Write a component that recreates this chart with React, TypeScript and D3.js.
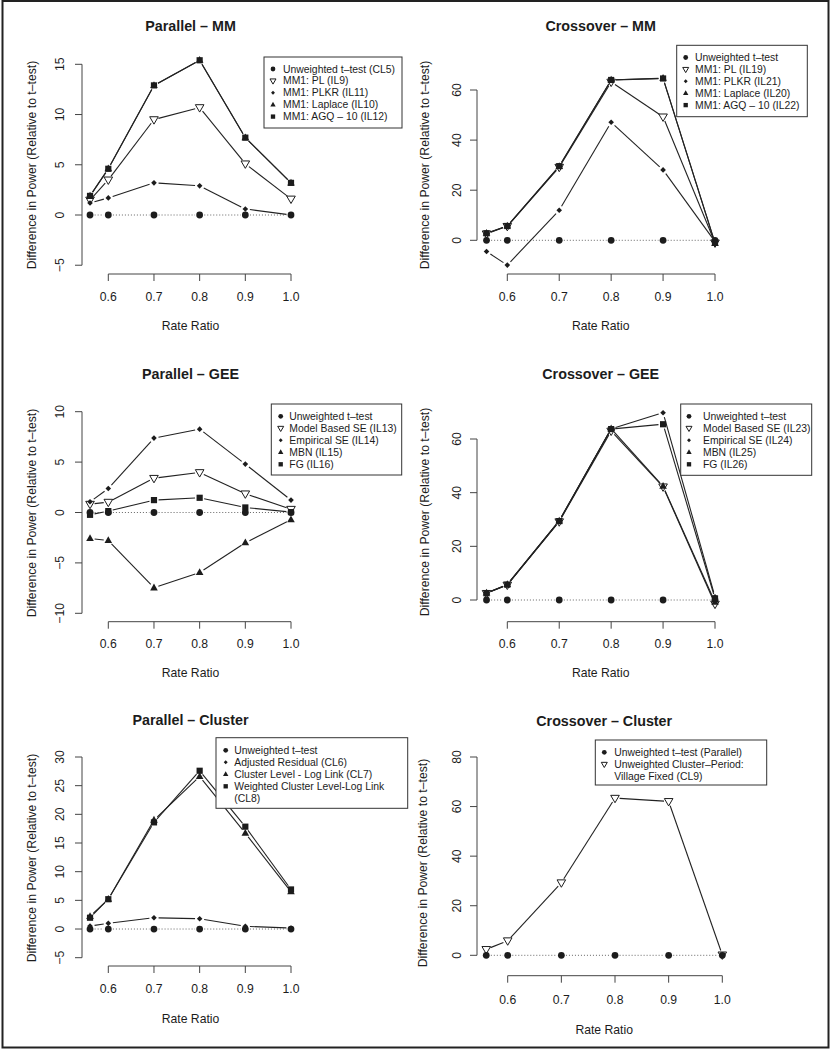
import React from "react";
import * as d3 from "d3";

// ---------- data ----------
const rateRatio = [0.56, 0.6, 0.7, 0.8, 0.9, 1.0];
const xTickValues = [0.6, 0.7, 0.8, 0.9, 1.0];

// Parallel – MM
const parMM_tTest = [0, 0, 0, 0, 0, 0];
const parMM_PL = [1.5, 3.5, 9.5, 10.7, 5.1, 1.6];
const parMM_PLKR = [1.2, 1.7, 3.2, 2.9, 0.6, 0.0];
const parMM_Laplace = [1.9, 4.6, 12.9, 15.4, 7.7, 3.2];
const parMM_AGQ = [1.9, 4.6, 12.9, 15.4, 7.7, 3.2];

// Crossover – MM
const crossMM_tTest = [0, 0, 0, 0, 0, 0];
const crossMM_PL = [2.6, 5.6, 29.2, 63.2, 49.3, -1.0];
const crossMM_PLKR = [-4.5, -9.9, 12.0, 47.1, 28.1, -0.5];
const crossMM_Laplace = [2.8, 5.7, 29.5, 64.0, 64.7, -1.2];
const crossMM_AGQ = [2.8, 5.7, 29.6, 64.0, 64.6, -1.0];

// Parallel – GEE
const parGEE_tTest = [0, 0, 0, 0, 0, 0];
const parGEE_ModelSE = [0.83, 1.03, 3.4, 3.97, 1.86, 0.33];
const parGEE_EmpSE = [1.06, 2.38, 7.38, 8.27, 4.8, 1.23];
const parGEE_MBN = [-2.58, -2.78, -7.47, -5.95, -3.0, -0.72];
const parGEE_FG = [-0.23, 0.14, 1.23, 1.46, 0.5, 0.04];

// Crossover – GEE
const crossGEE_tTest = [0, 0, 0, 0, 0, 0];
const crossGEE_ModelSE = [2.5, 5.6, 29.2, 63.0, 42.2, -1.5];
const crossGEE_EmpSE = [2.6, 5.7, 29.5, 63.8, 69.8, 1.2];
const crossGEE_MBN = [2.6, 5.8, 29.5, 63.8, 42.4, -0.8];
const crossGEE_FG = [2.5, 5.7, 29.4, 63.7, 65.5, 0.6];

// Parallel – Cluster
const parCL_tTest = [0, 0, 0, 0, 0, 0];
const parCL_AdjRes = [0.52, 0.99, 1.97, 1.8, 0.47, 0.17];
const parCL_LogLink = [2.2, 5.2, 19.0, 26.6, 16.7, 6.5];
const parCL_Weighted = [1.97, 5.2, 18.6, 27.6, 17.85, 6.9];

// Crossover – Cluster
const crossCL_tTest = [0, 0, 0, 0, 0, 0];
const crossCL_CL9 = [2.4, 5.9, 29.3, 63.4, 62.1, 0.2];

const yTicksParMM = [-5, 0, 5, 10, 15];
const yTicksCrossMM = [0, 20, 40, 60];
const yTicksParGEE = [-10, -5, 0, 5, 10];
const yTicksCrossGEE = [0, 20, 40, 60];
const yTicksParCL = [-5, 0, 5, 10, 15, 20, 25, 30];
const yTicksCrossCL = [0, 20, 40, 60, 80];

const legParMM = ["Unweighted t\u2013test (CL5)", "MM1: PL (IL9)", "MM1: PLKR (IL11)", "MM1: Laplace (IL10)", "MM1: AGQ \u2013 10 (IL12)"];
const legCrossMM = ["Unweighted t\u2013test", "MM1: PL (IL19)", "MM1: PLKR (IL21)", "MM1: Laplace (IL20)", "MM1: AGQ \u2013 10 (IL22)"];
const legParGEE = ["Unweighted t\u2013test", "Model Based SE (IL13)", "Empirical SE (IL14)", "MBN (IL15)", "FG (IL16)"];
const legCrossGEE = ["Unweighted t\u2013test", "Model Based SE (IL23)", "Empirical SE (IL24)", "MBN (IL25)", "FG (IL26)"];
const legParCL = ["Unweighted t\u2013test", "Adjusted Residual (CL6)", "Cluster Level - Log Link (CL7)", "Weighted Cluster Level-Log Link", "(CL8)"];
const legCrossCL = ["Unweighted t\u2013test (Parallel)", "Unweighted Cluster\u2013Period:", "Village Fixed (CL9)"];

const Y_LABEL = "Difference in Power (Relative to t\u2013test)";
const X_LABEL = "Rate Ratio";

// ---------- layout ----------
const FONT = "'Liberation Sans', Arial, Helvetica, sans-serif";
const INK = "#1c1c1c";

type Shape = "circle" | "tridown" | "diamond" | "tri" | "square" | null;

interface Series { values: number[]; shape: Shape; dotted?: boolean; }
interface Panel {
  title: string; titleX: number; titleY: number;
  x06: number; x10: number; yA: [number, number]; yB: [number, number];
  yAxisX: number; xAxisY: number; yTicks: number[];
  yTickLabelX: number; xTickLabelY: number; xLabelY: number;
  yLabelX: number; yLabelY: number;
  legend: { x0: number; y0: number; x1: number; y1: number; symX: number; textX: number; firstY: number; step: number; labels: string[]; shapes: Shape[] };
  series: Series[];
}

const panels: Panel[] = [
  {
    title: "Parallel \u2013 MM", titleX: 190.5, titleY: 26,
    x06: 108.3, x10: 291, yA: [0, 215], yB: [15, 64.3],
    yAxisX: 82, xAxisY: 274, yTicks: yTicksParMM,
    yTickLabelX: 60, xTickLabelY: 296.5, xLabelY: 326, yLabelX: 32, yLabelY: 165,
    legend: { x0: 264, y0: 57, x1: 402, y1: 128, symX: 273, textX: 283, firstY: 69, step: 11.9, labels: legParMM, shapes: ["circle", "tridown", "diamond", "tri", "square"] },
    series: [
      { values: parMM_tTest, shape: "circle", dotted: true },
      { values: parMM_PL, shape: "tridown" },
      { values: parMM_PLKR, shape: "diamond" },
      { values: parMM_Laplace, shape: "tri" },
      { values: parMM_AGQ, shape: "square" },
    ],
  },
  {
    title: "Crossover \u2013 MM", titleX: 600.7, titleY: 26,
    x06: 507.3, x10: 715, yA: [0, 240.3], yB: [60, 90],
    yAxisX: 477, xAxisY: 274, yTicks: yTicksCrossMM,
    yTickLabelX: 456.7, xTickLabelY: 296.5, xLabelY: 326, yLabelX: 425, yLabelY: 165,
    legend: { x0: 676.7, y0: 45.3, x1: 807.3, y1: 116.7, symX: 685.7, textX: 695, firstY: 57.5, step: 11.9, labels: legCrossMM, shapes: ["circle", "tridown", "diamond", "tri", "square"] },
    series: [
      { values: crossMM_tTest, shape: "circle", dotted: true },
      { values: crossMM_PL, shape: "tridown" },
      { values: crossMM_PLKR, shape: "diamond" },
      { values: crossMM_Laplace, shape: "tri" },
      { values: crossMM_AGQ, shape: "square" },
    ],
  },
  {
    title: "Parallel \u2013 GEE", titleX: 190.5, titleY: 374.3,
    x06: 108.3, x10: 291, yA: [-10, 613.3], yB: [10, 411.7],
    yAxisX: 82, xAxisY: 621.7, yTicks: yTicksParGEE,
    yTickLabelX: 60, xTickLabelY: 644, xLabelY: 673.3, yLabelX: 32, yLabelY: 513,
    legend: { x0: 271.3, y0: 404, x1: 401.7, y1: 475, symX: 280.7, textX: 289.3, firstY: 416.3, step: 12, labels: legParGEE, shapes: ["circle", "tridown", "diamond", "tri", "square"] },
    series: [
      { values: parGEE_tTest, shape: "circle", dotted: true },
      { values: parGEE_ModelSE, shape: "tridown" },
      { values: parGEE_EmpSE, shape: "diamond" },
      { values: parGEE_MBN, shape: "tri" },
      { values: parGEE_FG, shape: "square" },
    ],
  },
  {
    title: "Crossover \u2013 GEE", titleX: 600.7, titleY: 374.3,
    x06: 507.3, x10: 715, yA: [0, 600], yB: [60, 439],
    yAxisX: 477, xAxisY: 621.7, yTicks: yTicksCrossGEE,
    yTickLabelX: 456.7, xTickLabelY: 644, xLabelY: 673.3, yLabelX: 425, yLabelY: 512,
    legend: { x0: 680.7, y0: 404, x1: 811.7, y1: 475.3, symX: 689, textX: 703, firstY: 416.3, step: 12, labels: legCrossGEE, shapes: ["circle", "tridown", "diamond", "tri", "square"] },
    series: [
      { values: crossGEE_tTest, shape: "circle", dotted: true },
      { values: crossGEE_ModelSE, shape: "tridown" },
      { values: crossGEE_EmpSE, shape: "diamond" },
      { values: crossGEE_MBN, shape: "tri" },
      { values: crossGEE_FG, shape: "square" },
    ],
  },
  {
    title: "Parallel \u2013 Cluster", titleX: 190.5, titleY: 720,
    x06: 108.3, x10: 291, yA: [-5, 957.7], yB: [30, 757],
    yAxisX: 82, xAxisY: 966, yTicks: yTicksParCL,
    yTickLabelX: 60, xTickLabelY: 989, xLabelY: 1019, yLabelX: 32, yLabelY: 858,
    legend: { x0: 216, y0: 737.7, x1: 407.7, y1: 808.3, symX: 225.7, textX: 234.3, firstY: 750.3, step: 12, labels: legParCL, shapes: ["circle", "diamond", "tri", "square", null] },
    series: [
      { values: parCL_tTest, shape: "circle", dotted: true },
      { values: parCL_AdjRes, shape: "diamond" },
      { values: parCL_LogLink, shape: "tri" },
      { values: parCL_Weighted, shape: "square" },
    ],
  },
  {
    title: "Crossover \u2013 Cluster", titleX: 604.2, titleY: 720.7,
    x06: 507.7, x10: 722.3, yA: [0, 955.3], yB: [80, 757],
    yAxisX: 477, xAxisY: 975.7, yTicks: yTicksCrossCL,
    yTickLabelX: 456.7, xTickLabelY: 1000, xLabelY: 1030, yLabelX: 423.3, yLabelY: 863,
    legend: { x0: 595.3, y0: 740, x1: 766.7, y1: 785, symX: 604.3, textX: 614.3, firstY: 752.3, step: 12, labels: legCrossCL, shapes: ["circle", "tridown", null] },
    series: [
      { values: crossCL_tTest, shape: "circle", dotted: true },
      { values: crossCL_CL9, shape: "tridown" },
    ],
  },
];

// ---------- helpers ----------
function Marker({ shape, cx, cy, s = 1 }: { shape: Shape; cx: number; cy: number; s?: number }) {
  if (!shape) return null;
  if (shape === "circle") return <circle cx={cx} cy={cy} r={3.4 * s} fill={INK} />;
  let pts: [number, number][] = [];
  if (shape === "tridown") {
    const w = 8.6 * s, h = 7.4 * s;
    pts = [[cx - w / 2, cy - h * 0.38], [cx + w / 2, cy - h * 0.38], [cx, cy + h * 0.62]];
    return <polygon points={pts.map((p) => p.join(",")).join(" ")} fill="none" stroke={INK} strokeWidth={1} />;
  }
  if (shape === "tri") {
    const w = 7.6 * s, h = 6.8 * s;
    pts = [[cx - w / 2, cy + h * 0.38], [cx + w / 2, cy + h * 0.38], [cx, cy - h * 0.62]];
  } else if (shape === "diamond") {
    const d = 2.8 * s;
    pts = [[cx, cy - d], [cx + d, cy], [cx, cy + d], [cx - d, cy]];
  } else if (shape === "square") {
    const a = 3.1 * s;
    pts = [[cx - a, cy - a], [cx + a, cy - a], [cx + a, cy + a], [cx - a, cy + a]];
  }
  return <polygon points={pts.map((p) => p.join(",")).join(" ")} fill={INK} />;
}

const GAP = 4.6;

function PanelView({ p }: { p: Panel }) {
  const x = d3.scaleLinear().domain([0.6, 1.0]).range([p.x06, p.x10]);
  const y = d3.scaleLinear().domain([p.yA[0], p.yB[0]]).range([p.yA[1], p.yB[1]]);
  const fmtX = d3.format(".1f");
  const yMin = d3.min(p.yTicks)!, yMax = d3.max(p.yTicks)!;
  const txt = { fontFamily: FONT, fill: INK } as const;

  return (
    <g>
      {/* title */}
      <text x={p.titleX} y={p.titleY} textAnchor="middle" dominantBaseline="central" fontWeight="bold" fontSize={14.3} {...txt}>{p.title}</text>

      {/* x axis */}
      <line x1={x(0.6)} x2={x(1.0)} y1={p.xAxisY} y2={p.xAxisY} stroke="#444" strokeWidth={1} />
      {xTickValues.map((t) => (
        <g key={"xt" + t}>
          <line x1={x(t)} x2={x(t)} y1={p.xAxisY} y2={p.xAxisY + 7} stroke="#444" strokeWidth={1} />
          <text x={x(t)} y={p.xTickLabelY} textAnchor="middle" dominantBaseline="central" fontSize={12.2} {...txt}>{fmtX(t)}</text>
        </g>
      ))}
      <text x={p.titleX} y={p.xLabelY} textAnchor="middle" dominantBaseline="central" fontSize={12.2} {...txt}>{X_LABEL}</text>

      {/* y axis */}
      <line x1={p.yAxisX} x2={p.yAxisX} y1={y(yMin)} y2={y(yMax)} stroke="#444" strokeWidth={1} />
      {p.yTicks.map((t) => (
        <g key={"yt" + t}>
          <line x1={p.yAxisX} x2={p.yAxisX - 7} y1={y(t)} y2={y(t)} stroke="#444" strokeWidth={1} />
          <text transform={`translate(${p.yTickLabelX},${y(t)}) rotate(-90)`} textAnchor="middle" dominantBaseline="central" fontSize={12.2} {...txt}>{t < 0 ? "\u2212" + Math.abs(t) : String(t)}</text>
        </g>
      ))}
      <text transform={`translate(${p.yLabelX},${p.yLabelY}) rotate(-90)`} textAnchor="middle" dominantBaseline="central" fontSize={12.2} {...txt}>{Y_LABEL}</text>

      {/* series */}
      {p.series.map((s, si) => {
        const pts = s.values.map((v, i) => [x(rateRatio[i]), y(v)] as [number, number]);
        return (
          <g key={"s" + si}>
            {pts.slice(1).map((b, i) => {
              const a = pts[i];
              const dx = b[0] - a[0], dy = b[1] - a[1];
              const L = Math.hypot(dx, dy);
              if (L <= 2 * GAP) return null;
              const ux = dx / L, uy = dy / L;
              return (
                <line key={i} x1={a[0] + ux * GAP} y1={a[1] + uy * GAP} x2={b[0] - ux * GAP} y2={b[1] - uy * GAP}
                  stroke={s.dotted ? "#666" : "#222"} strokeWidth={s.dotted ? 1 : 1.1} strokeDasharray={s.dotted ? "1 2" : undefined} />
              );
            })}
            {pts.map((q, i) => <Marker key={"m" + i} shape={s.shape} cx={q[0]} cy={q[1]} />)}
          </g>
        );
      })}

      {/* legend */}
      <rect x={p.legend.x0} y={p.legend.y0} width={p.legend.x1 - p.legend.x0} height={p.legend.y1 - p.legend.y0} fill="white" stroke="#333" strokeWidth={1} />
      {p.legend.labels.map((lab, i) => {
        const ly = p.legend.firstY + i * p.legend.step;
        return (
          <g key={"l" + i}>
            <Marker shape={p.legend.shapes[i]} cx={p.legend.symX} cy={ly} s={0.7} />
            <text x={p.legend.textX} y={ly} dominantBaseline="central" fontSize={10.4} {...txt}>{lab}</text>
          </g>
        );
      })}
    </g>
  );
}

export default function App() {
  return (
    <svg width={831} height={1050} viewBox="0 0 831 1050" style={{ position: "absolute", left: 0, top: 0, display: "block", background: "white" }}>
      <rect x={0} y={0} width={831} height={1050} fill="white" />
      <rect x={2.5} y={1} width={826} height={1046.5} fill="none" stroke="#222" strokeWidth={2} />
      {panels.map((p, i) => <PanelView key={i} p={p} />)}
    </svg>
  );
}
